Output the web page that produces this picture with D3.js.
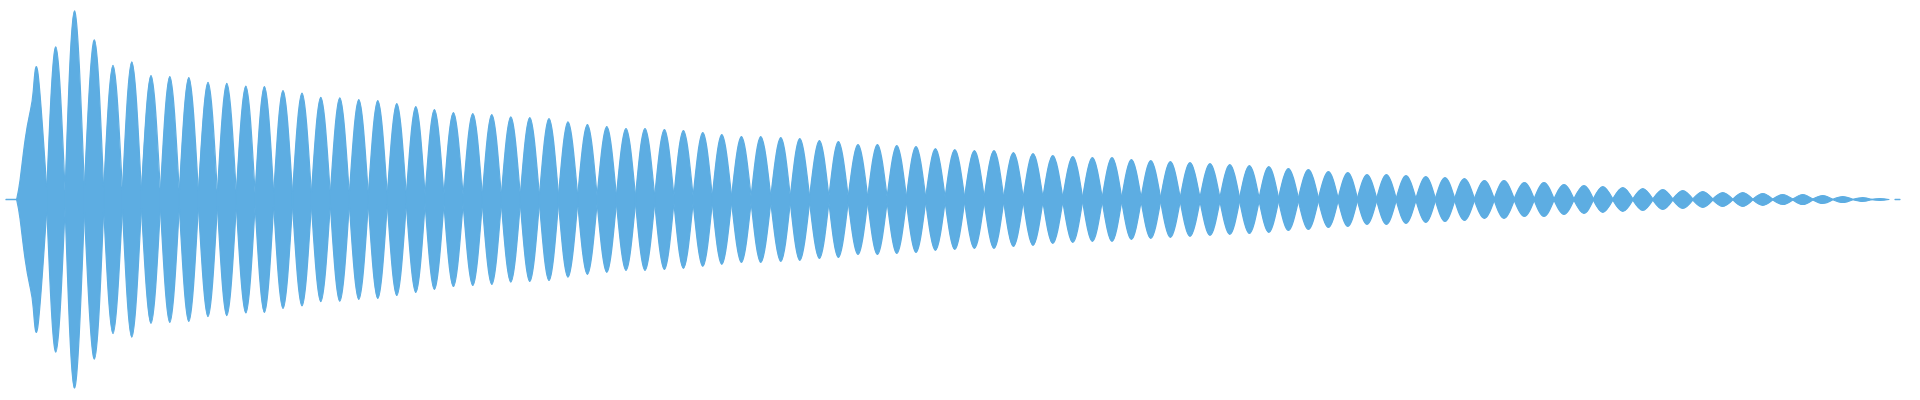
<!DOCTYPE html>
<html><head><meta charset="utf-8">
<script src="https://cdn.jsdelivr.net/npm/d3@7"></script>
<style>html,body{margin:0;padding:0;background:#fff;overflow:hidden}</style>
</head>
<body>
<svg id="chart" width="1920" height="400"></svg>
<script>
// time of each beat peak (ms)
const peakTimes = [18.9,27.9,37.2,47.2,56.5,65.9,75.5,84.9,94.4,104.0,
113.4,122.9,132.2,141.5,151.0,160.4,169.9,179.4,188.9,198.4,
207.9,217.2,226.7,236.4,245.9,255.4,264.9,274.5,284.0,293.7,
303.4,313.0,322.5,332.2,341.7,351.4,360.9,370.7,380.4,390.4,
399.9,409.7,419.2,429.0,438.7,448.4,458.0,467.7,477.4,487.2,
497.0,506.7,516.5,526.4,536.4,546.2,556.0,565.7,575.4,585.2,
595.0,605.0,614.9,624.7,634.4,644.2,654.2,664.2,673.9,683.5,
693.2,703.0,712.9,722.5,732.2,742.2,752.0,762.2,772.0,782.0,
791.9,801.4,811.4,821.4,831.4,841.4,851.4,861.4,871.4,881.4,
891.4,901.4,911.4,921.4,931.4,940.0];
// peak amplitude of each beat (full scale = 1)
const peakAmps = [0.640,0.765,0.945,0.800,0.672,0.690,0.621,0.616,0.611,0.587,
0.582,0.569,0.566,0.546,0.533,0.512,0.510,0.501,0.496,0.481,
0.466,0.451,0.436,0.431,0.426,0.414,0.411,0.406,0.389,0.375,
0.365,0.355,0.355,0.350,0.345,0.335,0.325,0.315,0.315,0.310,
0.305,0.295,0.290,0.275,0.275,0.270,0.265,0.255,0.250,0.245,
0.245,0.235,0.230,0.220,0.215,0.210,0.210,0.200,0.195,0.190,
0.185,0.180,0.175,0.170,0.165,0.155,0.150,0.140,0.135,0.125,
0.125,0.120,0.115,0.110,0.105,0.095,0.095,0.085,0.085,0.075,
0.070,0.065,0.060,0.055,0.050,0.045,0.040,0.035,0.035,0.030,
0.025,0.025,0.020,0.015,0.010,0.005];
// residual amplitude at the node between consecutive beats
const nodeAmps = [0.048,0.038,0.058,0.048,0.043,0.038,0.038,0.036,0.034,0.032,
0.031,0.030,0.029,0.028,0.028,0.026,0.025,0.024,0.023,0.023,
0.022,0.022,0.021,0.021,0.020,0.020,0.019,0.019,0.018,0.018,
0.018,0.017,0.017,0.016,0.016,0.016,0.015,0.015,0.015,0.014,
0.014,0.014,0.013,0.013,0.013,0.013,0.012,0.012,0.012,0.012,
0.011,0.011,0.011,0.011,0.010,0.010,0.010,0.010,0.009,0.009,
0.009,0.009,0.008,0.008,0.008,0.008,0.007,0.007,0.007,0.007,
0.006,0.006,0.006,0.006,0.005,0.005,0.005,0.005,0.004,0.004,
0.004,0.004,0.003,0.003,0.003,0.003,0.003,0.002,0.002,0.002,
0.002,0.002,0.001,0.001,0.001];
// attack of the first beat
const onsetTimes = [8.35,10.0,12.5,15.0,16.65];
const onsetAmps = [0.002,0.095,0.295,0.437,0.546];
// lead-in and trailing segments
const leadTimes = [3.0,8.35];
const leadAmps = [0.001,0.001];
const endTime = 944.5;
const tailTimes = [947.5,950.0];
const tailAmps = [0.0005,0.0005];

const W = 1920, H = 400;
const color = "#5dade2";
const svg = d3.select("#chart");
const x = d3.scaleLinear().domain([0, 960]).range([0, W]);
const y = d3.scaleLinear().domain([-1, 1]).range([H - 1, 0]);

const areaCurve = d3.area().x(d => x(d.t)).y0(d => y(-d.a)).y1(d => y(d.a)).curve(d3.curveNatural);
const areaLin = d3.area().x(d => x(d.t)).y0(d => y(-d.a)).y1(d => y(d.a));

const nodeTimes = peakTimes.slice(0, -1).map((t, i) => (t + peakTimes[i + 1]) / 2);

const lobes = peakTimes.map((t, i) => {
  let pts = [];
  if (i === 0) pts = onsetTimes.map((ot, j) => ({t: ot, a: onsetAmps[j]}));
  else pts.push({t: nodeTimes[i - 1], a: nodeAmps[i - 1]});
  pts.push({t: t, a: peakAmps[i]});
  if (i < nodeTimes.length) pts.push({t: nodeTimes[i], a: nodeAmps[i]});
  else pts.push({t: endTime, a: 0});
  return pts;
});

const g = svg.append("g").attr("fill", color).attr("stroke", color)
  .attr("stroke-width", 1.2).attr("stroke-linejoin", "round");
g.append("path").attr("d", areaLin(leadTimes.map((t, i) => ({t, a: leadAmps[i]}))));
g.selectAll("path.lobe").data(lobes).join("path").attr("class", "lobe")
  .attr("d", d => areaCurve(d));
g.append("path").attr("d", areaLin(tailTimes.map((t, i) => ({t, a: tailAmps[i]}))));
</script>
</body></html>
